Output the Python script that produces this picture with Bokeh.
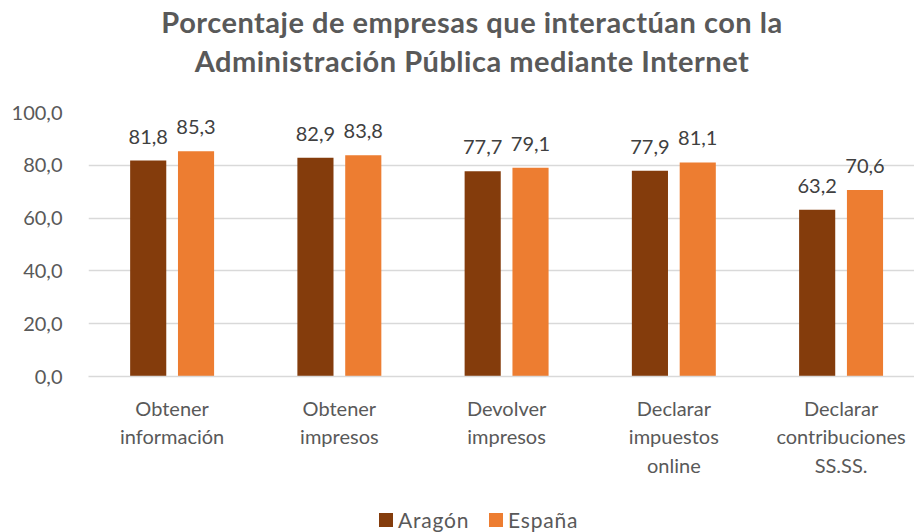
from bokeh.plotting import figure
from bokeh.layouts import column
from bokeh.models import ColumnDataSource, Range1d, FixedTicker, LabelSet, Div
from bokeh.core.properties import value
from bokeh.transform import dodge
from bokeh.embed import file_html
from bokeh.resources import INLINE

categories = ["Obtener\ninformación", "Obtener\nimpresos", "Devolver\nimpresos",
              "Declarar\nimpuestos\nonline", "Declarar\ncontribuciones\nSS.SS."]
aragon = [81.8, 82.9, 77.7, 77.9, 63.2]
espana = [85.3, 83.8, 79.1, 81.1, 70.6]
series_names = ["Aragón", "España"]
y_ticks = [0, 20, 40, 60, 80, 100]
title_lines = ["Porcentaje de empresas que interactúan con la",
               "Administración Pública mediante Internet"]

C_AR = "#843C0C"
C_ES = "#ED7D31"
TXT = "#595959"
FONT = "Lato"
W = 914

def fmt(v):
    return f"{v:.1f}".replace(".", ",")

# ---- title (HTML text) -------------------------------------------------
TH = 94
title_html = (
    f'<div style="width:{W}px;height:{TH}px;box-sizing:border-box;'
    f'padding-left:30px;padding-top:2px;text-align:center;font-family:{FONT};'
    f'font-weight:bold;font-size:29px;line-height:39px;letter-spacing:0.5px;'
    f'color:{TXT};white-space:nowrap;">' + "<br>".join(title_lines) + '</div>'
)
tdiv = Div(text=title_html, width=W, height=TH, margin=(0, 0, 0, 0))

# ---- main chart --------------------------------------------------------
src = ColumnDataSource(dict(
    idx=list(range(len(categories))),
    aragon=aragon, espana=espana,
    ar_lbl=[fmt(v) for v in aragon],
    es_lbl=[fmt(v) for v in espana],
))

p = figure(width=W, height=401, output_backend="svg", toolbar_location=None,
           x_range=Range1d(-0.5, 4.439), y_range=Range1d(0, 100),
           min_border_left=88, min_border_right=0, min_border_top=18,
           min_border_bottom=119)
p.outline_line_color = None
p.xgrid.grid_line_color = None
p.ygrid.grid_line_color = "#D9D9D9"
p.ygrid.grid_line_width = 1.3

bw = 0.216
p.vbar(x=dodge("idx", -0.143), top="aragon", width=bw, source=src,
       fill_color=C_AR, line_color=None)
p.vbar(x=dodge("idx", 0.143), top="espana", width=bw, source=src,
       fill_color=C_ES, line_color=None)

for col, lbl, off in (("aragon", "ar_lbl", -0.143), ("espana", "es_lbl", 0.143)):
    p.add_layout(LabelSet(x=dodge("idx", off), y=col, text=lbl, source=src,
                          text_align="center", text_baseline="alphabetic",
                          y_offset=17, text_font=value(FONT),
                          text_font_size="20px", text_color="#404040"))

p.yaxis.ticker = FixedTicker(ticks=y_ticks)
p.yaxis.major_label_overrides = {t: fmt(t) for t in y_ticks}
p.yaxis.axis_line_color = None
p.yaxis.major_tick_line_color = None
p.yaxis.minor_tick_line_color = None
p.yaxis.major_label_standoff = 20
p.yaxis.major_label_text_font = FONT
p.yaxis.major_label_text_font_size = "20px"
p.yaxis.major_label_text_color = TXT

p.xaxis.ticker = FixedTicker(ticks=list(range(len(categories))))
p.xaxis.major_label_overrides = {i: c for i, c in enumerate(categories)}
p.xaxis.axis_line_color = "#D9D9D9"
p.xaxis.axis_line_width = 1.3
p.xaxis.major_tick_line_color = None
p.xaxis.minor_tick_line_color = None
p.xaxis.major_label_standoff = 13
p.xaxis.major_label_text_font = FONT
p.xaxis.major_label_text_font_size = "20px"
p.xaxis.major_label_text_color = TXT
p.xaxis.major_label_text_line_height = 1.2

# ---- legend (HTML) -----------------------------------------------------
LH = 37
items = [(series_names[0], C_AR, 379), (series_names[1], C_ES, 489)]
parts = []
for name, color, x0 in items:
    parts.append(f'<span style="position:absolute;left:{x0}px;top:18px;width:14px;'
                 f'height:14px;background:{color};"></span>')
    parts.append(f'<span style="position:absolute;left:{x0 + 19}px;top:13px;'
                 f'line-height:24px;font-family:{FONT};font-size:21px;'
                 f'letter-spacing:0.8px;color:{TXT};white-space:nowrap;">{name}</span>')
legend_html = (f'<div style="position:relative;width:{W}px;height:{LH}px;">'
               + "".join(parts) + '</div>')
ldiv = Div(text=legend_html, width=W, height=LH, margin=(0, 0, 0, 0))

layout = column(tdiv, p, ldiv, spacing=0)
open("out.html", "w").write(file_html(layout, INLINE))
